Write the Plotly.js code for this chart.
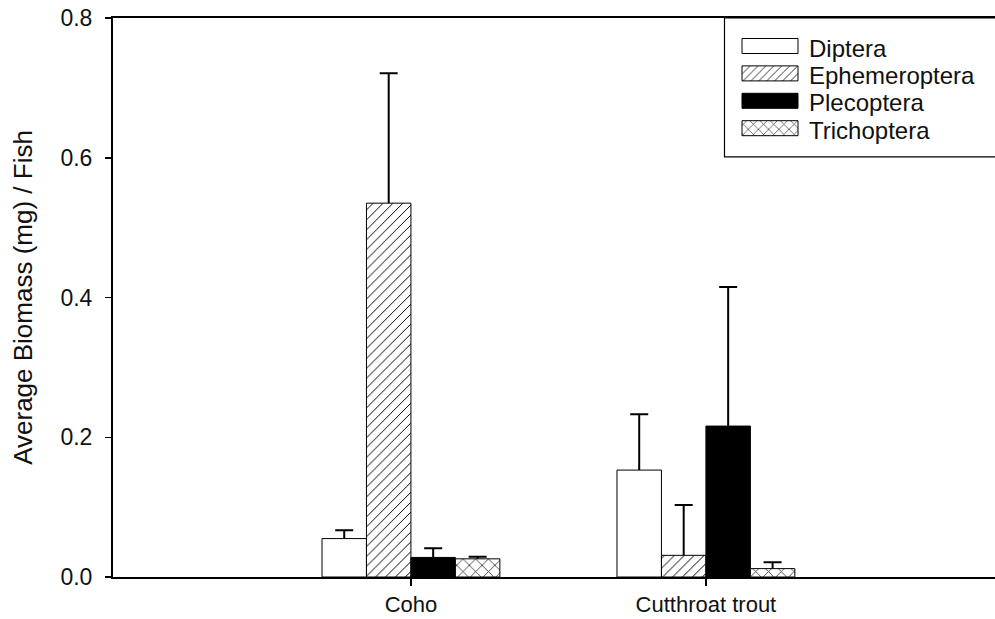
<!DOCTYPE html>
<html>
<head>
<meta charset="utf-8">
<script src="https://cdn.plot.ly/plotly-3.0.1.min.js"></script>
<style>
  html, body { margin: 0; padding: 0; background: #fff; }
  #chart { width: 995px; height: 619px; }
</style>
</head>
<body>
<div id="chart"></div>
<script>
// ---- data ----
var categories = ["Coho", "Cutthroat trout"];
var seriesNames = ["Diptera", "Ephemeroptera", "Plecoptera", "Trichoptera"];
var dipteraMean = [0.055, 0.153];
var dipteraErr  = [0.012, 0.080];
var ephemMean   = [0.535, 0.031];
var ephemErr    = [0.186, 0.072];
var plecoMean   = [0.028, 0.216];
var plecoErr    = [0.013, 0.199];
var trichMean   = [0.026, 0.012];
var trichErr    = [0.003, 0.009];
var yTicks = [0, 0.2, 0.4, 0.6, 0.8];
var yTickText = ["0.0", "0.2", "0.4", "0.6", "0.8"];

var FONT = "Liberation Sans, Arial, Helvetica, sans-serif";
var zeros = [0, 0];

function errY(arr) {
  return {type: "data", symmetric: false, array: arr, arrayminus: zeros,
          color: "#000", thickness: 2, width: 9};
}

var traces = [
  {type: "bar", name: seriesNames[0], x: categories, y: dipteraMean, legendgroup: "a",
   marker: {color: "#ffffff", line: {color: "#000", width: 1}}, error_y: errY(dipteraErr)},
  {type: "bar", name: seriesNames[1], x: categories, y: ephemMean, legendgroup: "b",
   marker: {color: "#ffffff", line: {color: "#000", width: 1},
            pattern: {shape: "/", size: 7, solidity: 0.14, fgcolor: "#000", bgcolor: "#fff", fillmode: "replace"}},
   error_y: errY(ephemErr)},
  {type: "bar", name: seriesNames[2], x: categories, y: plecoMean, legendgroup: "c",
   marker: {color: "#000000", line: {color: "#000", width: 1}}, error_y: errY(plecoErr)},
  {type: "bar", name: seriesNames[3], x: categories, y: trichMean, legendgroup: "d",
   marker: {color: "#ffffff", line: {color: "#000", width: 1},
            pattern: {shape: "x", size: 9, solidity: 0.18, fgcolor: "#333", bgcolor: "#fff", fillmode: "replace"}},
   error_y: errY(trichErr)}
];

var layout = {
  width: 995, height: 619,
  margin: {l: 113, r: 0, t: 18, b: 42, pad: 0},
  paper_bgcolor: "#fff", plot_bgcolor: "#fff",
  font: {family: FONT, color: "#111"},
  showlegend: true,
  barmode: "group", bargap: 0.397, bargroupgap: 0,
  xaxis: {
    type: "category", range: [-1.01, 1.98], fixedrange: true,
    showline: true, linecolor: "#000", linewidth: 2, mirror: true,
    ticks: "outside", ticklen: 7, tickwidth: 2, tickcolor: "#000",
    showgrid: false, zeroline: false,
    tickfont: {family: FONT, size: 22, color: "#111"},
    ticklabelstandoff: 0
  },
  yaxis: {
    range: [0, 0.8], fixedrange: true,
    tickvals: yTicks, ticktext: yTickText,
    showline: true, linecolor: "#000", linewidth: 2,
    ticks: "outside", ticklen: 6, tickwidth: 1.5, tickcolor: "#000",
    showgrid: false, zeroline: false,
    tickfont: {family: FONT, size: 23, color: "#111"},
    ticklabelstandoff: 8,
    title: {text: "Average Biomass (mg) / Fish", font: {family: FONT, size: 26, color: "#111"}, standoff: 20}
  },
  legend: {
    x: 0.70, y: 0.985, xanchor: "left", yanchor: "top",
    bgcolor: "rgba(0,0,0,0)", borderwidth: 0,
    font: {family: FONT, size: 24, color: "#111"},
    tracegroupgap: 0, traceorder: "normal"
  },
  shapes: [{
    type: "rect", xref: "paper", yref: "paper",
    x0: 0.6933, x1: 1.05, y0: 0.7516, y1: 1,
    line: {color: "#000", width: 1.2}, fillcolor: "rgba(0,0,0,0)", layer: "above"
  }]
};

// legend geometry in the reference (pixels)
var LEG_TEXT_X = 809, LEG_ROW0 = 48, LEG_STEP = 27.4;
var SW_X0 = 742, SW_X1 = 798, SW_HALF = 7.5;

Plotly.newPlot("chart", traces, layout, {displayModeBar: false, staticPlot: true}).then(function (gd) {
  // error bars only go upward: drop the base cap drawn at the bar top
  gd.querySelectorAll("path.yerror").forEach(function (p) {
    var d = p.getAttribute("d") || "";
    p.setAttribute("d", d.replace(/m-?[\d.]+,0h[\d.]+\s*$/, ""));
  });
  var svg = gd.querySelector(".main-svg");
  var svgRect = svg.getBoundingClientRect();
  gd.querySelectorAll(".legend .scrollbox, .legend").forEach(function (el) { el.removeAttribute("clip-path"); });
  var items = gd.querySelectorAll(".legend .traces");
  items.forEach(function (item, i) {
    var txt = item.querySelector("text.legendtext");
    if (!txt) return;
    var r = txt.getBoundingClientRect();
    var dx = LEG_TEXT_X - (r.left - svgRect.left);
    var dy = (LEG_ROW0 + i * LEG_STEP) - ((r.top + r.bottom) / 2 - svgRect.top);
    item.setAttribute("transform", (item.getAttribute("transform") || "") + " translate(" + dx + "," + dy + ")");
    var p = item.querySelector(".legendpoints path");
    if (p) {
      var m = p.getCTM();
      var cy = LEG_ROW0 - 2 + i * LEG_STEP;
      var x0 = SW_X0 - m.e, x1 = SW_X1 - m.e, y0 = cy - SW_HALF - m.f, y1 = cy + SW_HALF - m.f;
      p.setAttribute("d", "M" + x0 + "," + y0 + "H" + x1 + "V" + y1 + "H" + x0 + "Z");
      p.style.strokeWidth = "1px";
      p.style.stroke = "#000";
    }
  });
});
</script>
</body>
</html>
